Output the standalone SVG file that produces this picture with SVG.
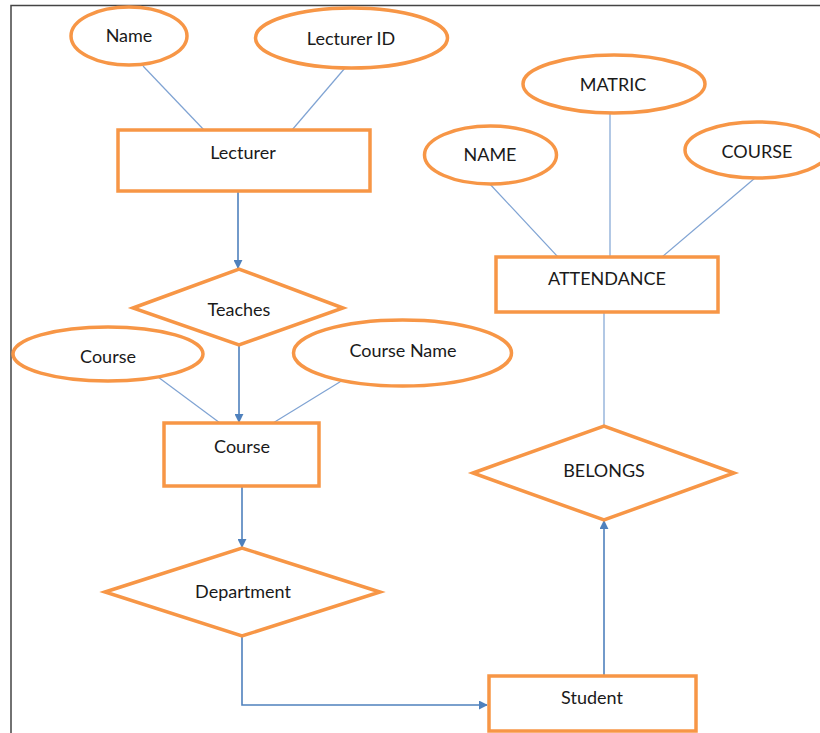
<svg xmlns="http://www.w3.org/2000/svg" width="820" height="733" viewBox="0 0 820 733">
  <defs>
    <style>
      .ent { fill: #fff; stroke: #F79646; stroke-width: 3.5; }
      .attr { fill: #fff; stroke: #F79646; stroke-width: 3.5; }
      .rel { fill: #fff; stroke: #F79646; stroke-width: 3.5; stroke-linejoin: miter; }
      .lbl { font-family: Lato, "Liberation Sans", sans-serif; font-size: 18px; fill: #1a1a1a; text-anchor: middle; dominant-baseline: central; }
      .link { stroke: #7FA3D3; stroke-width: 1.2; fill: none; }
      .flow { stroke: #4F81BD; stroke-width: 1.6; fill: none; }
    </style>
    <marker id="arrow" viewBox="0 0 10 10" refX="9" refY="5" markerWidth="9" markerHeight="9" markerUnits="userSpaceOnUse" orient="auto">
      <path d="M0,0 L10,5 L0,10 z" fill="#4F81BD"/>
    </marker>
  </defs>

  <rect width="820" height="733" fill="#fff"/>
  <!-- page frame -->
  <path d="M11,733 V5.5 H820" fill="none" stroke="#444" stroke-width="1.5"/>

  <!-- connectors -->
  <g id="connectors">
    <line class="link" x1="143" y1="66" x2="204" y2="130"/>
    <line class="link" x1="345" y1="68" x2="292" y2="130"/>
    <line class="flow" x1="238" y1="191" x2="238" y2="268" marker-end="url(#arrow)"/>
    <line class="link" x1="158" y1="377" x2="220" y2="423"/>
    <line class="link" x1="343" y1="380" x2="273" y2="423"/>
    <line class="flow" x1="239" y1="345" x2="239" y2="422" marker-end="url(#arrow)"/>
    <line class="flow" x1="242" y1="486" x2="242" y2="547" marker-end="url(#arrow)"/>
    <path class="flow" d="M242,636 V705 H487" marker-end="url(#arrow)"/>
    <line class="flow" x1="604" y1="676" x2="604" y2="521" marker-end="url(#arrow)"/>
    <line class="link" x1="604" y1="313" x2="604" y2="426"/>
    <line class="link" x1="488" y1="182" x2="558" y2="257"/>
    <line class="link" x1="610" y1="113" x2="610" y2="257"/>
    <line class="link" x1="755" y1="178" x2="662" y2="257"/>
  </g>

  <g id="attr-name">
    <ellipse class="attr" cx="129" cy="36" rx="58" ry="29"/>
    <text class="lbl" x="129" y="35">Name</text>
  </g>
  <g id="attr-lecturer-id">
    <ellipse class="attr" cx="351.5" cy="38" rx="96" ry="30"/>
    <text class="lbl" x="351" y="38">Lecturer ID</text>
  </g>
  <g id="ent-lecturer">
    <rect class="ent" x="118" y="130" width="252" height="61"/>
    <text class="lbl" x="243" y="152">Lecturer</text>
  </g>
  <g id="rel-teaches">
    <polygon class="rel" points="133,308 239,269 343,308 239,345"/>
    <text class="lbl" x="239" y="309">Teaches</text>
  </g>
  <g id="attr-course">
    <ellipse class="attr" cx="108" cy="354" rx="95" ry="27"/>
    <text class="lbl" x="108" y="356">Course</text>
  </g>
  <g id="attr-course-name">
    <ellipse class="attr" cx="402.5" cy="353" rx="109" ry="33"/>
    <text class="lbl" x="403" y="350">Course Name</text>
  </g>
  <g id="ent-course">
    <rect class="ent" x="164" y="423" width="155" height="63"/>
    <text class="lbl" x="242" y="446">Course</text>
  </g>
  <g id="rel-department">
    <polygon class="rel" points="105,592 242,548 380,592 242,636"/>
    <text class="lbl" x="243" y="591">Department</text>
  </g>
  <g id="ent-student">
    <rect class="ent" x="489" y="676" width="207" height="55"/>
    <text class="lbl" x="592" y="697">Student</text>
  </g>
  <g id="rel-belongs">
    <polygon class="rel" points="473,473 604,426 734,473 604,520"/>
    <text class="lbl" x="604" y="470">BELONGS</text>
  </g>
  <g id="ent-attendance">
    <rect class="ent" x="496" y="257" width="222" height="55"/>
    <text class="lbl" x="607" y="278">ATTENDANCE</text>
  </g>
  <g id="attr-matric">
    <ellipse class="attr" cx="614" cy="84" rx="91" ry="29"/>
    <text class="lbl" x="613" y="84">MATRIC</text>
  </g>
  <g id="attr-name-upper">
    <ellipse class="attr" cx="490.5" cy="155" rx="66" ry="29"/>
    <text class="lbl" x="490" y="154">NAME</text>
  </g>
  <g id="attr-course-upper">
    <ellipse class="attr" cx="757" cy="150" rx="72" ry="28"/>
    <text class="lbl" x="757" y="151">COURSE</text>
  </g>
</svg>
